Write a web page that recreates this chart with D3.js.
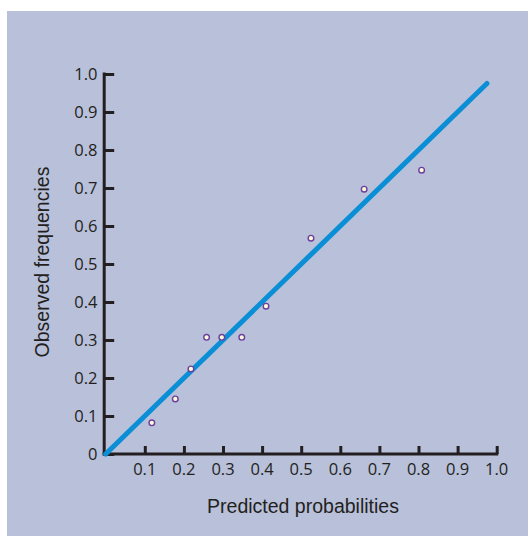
<!DOCTYPE html>
<html><head><meta charset="utf-8">
<script src="https://cdn.jsdelivr.net/npm/d3@7"></script>
<style>html,body{margin:0;padding:0;background:#fff;}svg{display:block;}</style>
</head><body>
<svg id="chart" width="528" height="536"></svg>
<script>
const predicted = [0.118, 0.178, 0.218, 0.258, 0.297, 0.348, 0.410, 0.525, 0.661, 0.808];
const observed  = [0.082, 0.145, 0.224, 0.307, 0.307, 0.307, 0.389, 0.568, 0.697, 0.747];
const lineX = [0, 0.975];
const lineY = [0, 0.975];
const yTicks = [0,0.1,0.2,0.3,0.4,0.5,0.6,0.7,0.8,0.9,1.0];
const xTicks = [0.1,0.2,0.3,0.4,0.5,0.6,0.7,0.8,0.9,1.0];
const xTitle = "Predicted probabilities";
const yTitle = "Observed frequencies";

const svg = d3.select("#chart");
svg.append("rect").attr("x",7).attr("y",11).attr("width",521).attr("height",525).attr("fill","#b8c0da");

const x = d3.scaleLinear().domain([0,1]).range([105.7,496.7]);
const y = d3.scaleLinear().domain([0,1]).range([454,74]);
const ink = "#231f20";
const fmt = d => d===0 ? "0" : d3.format(".1f")(d);

// y axis
const ya = svg.append("g").attr("transform",`translate(${x(0)-1.5},0)`)
  .call(d3.axisRight(y).tickValues(yTicks).tickSize(10).tickFormat(""));
ya.select(".domain").remove();
ya.selectAll(".tick line").attr("stroke",ink).attr("stroke-width",3);
svg.append("line").attr("x1",x(0)-1.5).attr("x2",x(0)-1.5).attr("y1",y(1)-1.5).attr("y2",y(0)+1.5)
  .attr("stroke",ink).attr("stroke-width",3);
svg.append("g").selectAll("text").data(yTicks).join("text")
  .attr("x",97.5).attr("y",d=>y(d)).attr("dy","0.37em").attr("text-anchor","end")
  .attr("font-family","'Open Sans', sans-serif").attr("font-size",16.5).attr("fill",ink)
  .text(fmt);

// x axis
const xa = svg.append("g").attr("transform",`translate(0,${y(0)})`)
  .call(d3.axisTop(x).tickValues(xTicks).tickSize(8).tickFormat(""));
xa.select(".domain").remove();
xa.selectAll(".tick line").attr("stroke",ink).attr("stroke-width",3);
svg.append("line").attr("x1",x(0)-3).attr("x2",x(1)+1.5).attr("y1",y(0)).attr("y2",y(0))
  .attr("stroke",ink).attr("stroke-width",3);
svg.append("g").selectAll("text").data(xTicks).join("text")
  .attr("x",d=>x(d)).attr("y",474.5).attr("text-anchor","middle")
  .attr("font-family","'Open Sans', sans-serif").attr("font-size",16.5).attr("fill",ink)
  .text(fmt);

// line
svg.append("line").attr("x1",x(lineX[0])).attr("y1",y(lineY[0])).attr("x2",x(lineX[1])).attr("y2",y(lineY[1]))
  .attr("stroke","#0a8fd6").attr("stroke-width",5).attr("stroke-linecap","round");

// points
svg.append("g").selectAll("circle").data(predicted.map((p,i)=>[p,observed[i]])).join("circle")
  .attr("cx",d=>x(d[0])).attr("cy",d=>y(d[1])).attr("r",2.8)
  .attr("fill","#fffbd6").attr("stroke","#6b3fa0").attr("stroke-width",1.4);

// titles
svg.append("text").attr("x",303).attr("y",513).attr("text-anchor","middle")
  .attr("font-family","'Liberation Sans', Arial, sans-serif").attr("font-size",19.5).attr("fill",ink).text(xTitle);
svg.append("text").attr("transform","translate(49,262) rotate(-90)").attr("text-anchor","middle")
  .attr("font-family","'Liberation Sans', Arial, sans-serif").attr("font-size",19.5).attr("fill",ink).text(yTitle);
</script>
</body></html>
